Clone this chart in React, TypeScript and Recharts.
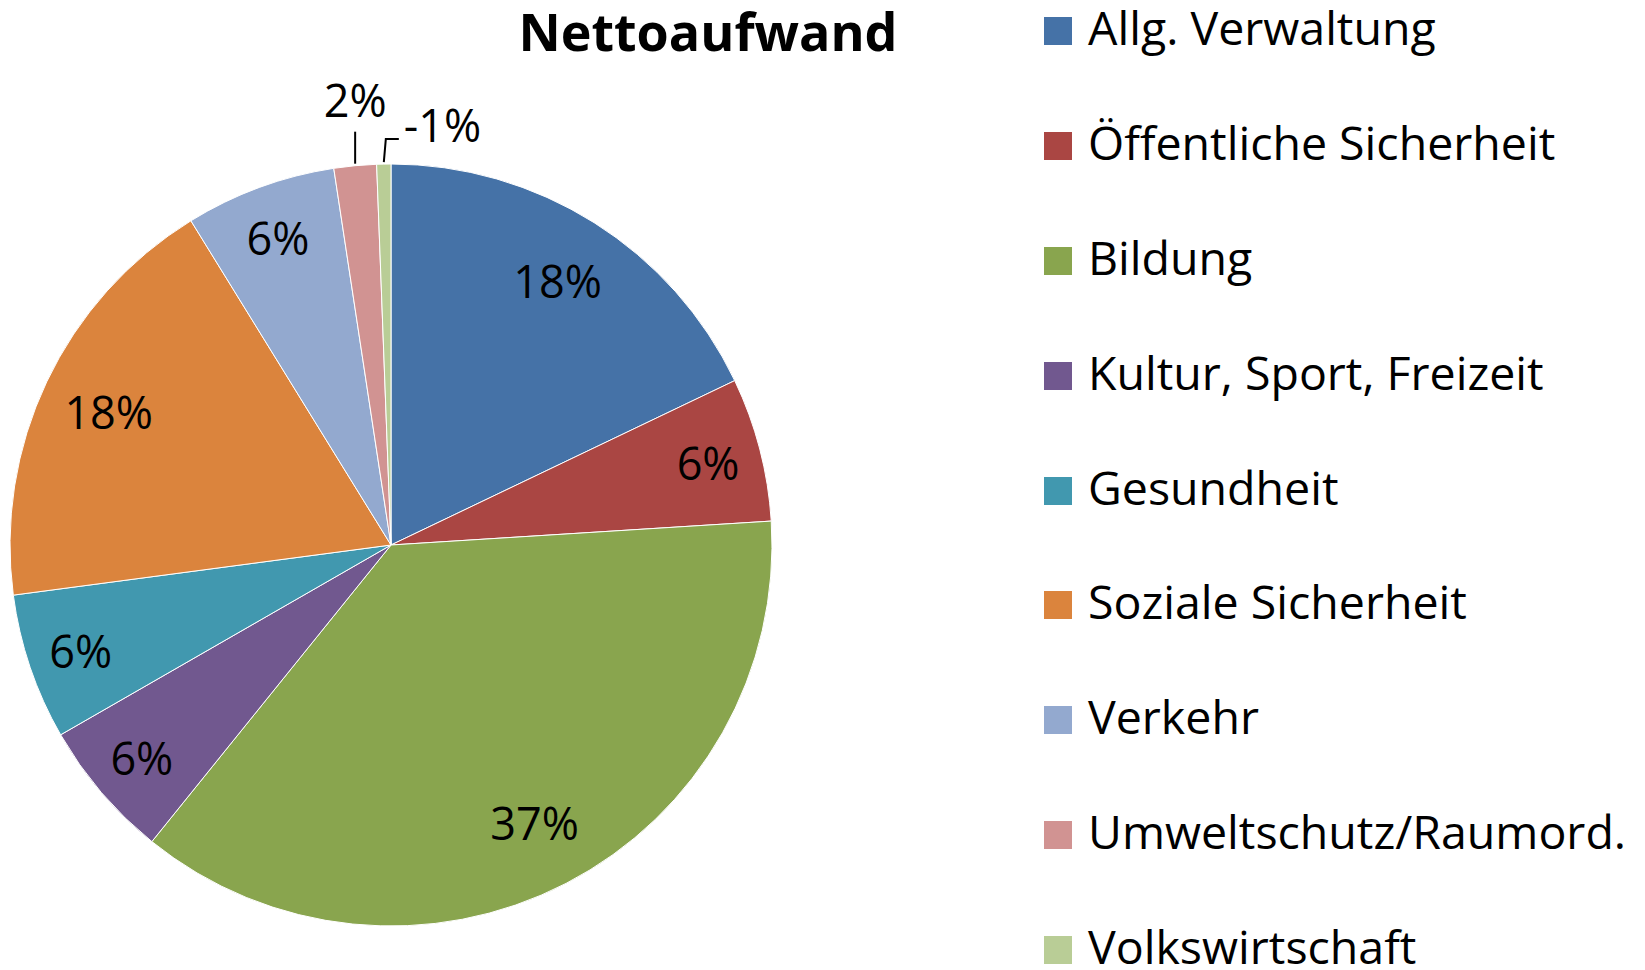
import { PieChart, Pie, Cell, Legend } from 'recharts';

const categories = [
  'Allg. Verwaltung',
  'Öffentliche Sicherheit',
  'Bildung',
  'Kultur, Sport, Freizeit',
  'Gesundheit',
  'Soziale Sicherheit',
  'Verkehr',
  'Umweltschutz/Raumord.',
  'Volkswirtschaft',
];
// share of net expenditure in %, Volkswirtschaft is negative
const shares = [17.9, 6.1, 36.8, 5.9, 6.2, 18.3, 6.4, 1.8, -0.6];
const colors = ['#4572A7', '#AA4643', '#89A54E', '#71588F', '#4198AF', '#DB843D', '#93A9CF', '#D19392', '#B9CD96'];

const data = categories.map((name, i) => ({ name, share: shares[i], size: Math.abs(shares[i]) }));

const FONT = "'Open Sans', sans-serif";
const RAD = Math.PI / 180;

function SliceLabel(props: any) {
  const { cx, cy, midAngle, outerRadius, percent, index } = props;
  const text = `${Math.round(shares[index])}%`;
  const cos = Math.cos(-midAngle * RAD);
  const sin = Math.sin(-midAngle * RAD);
  if (percent >= 0.03) {
    const r = outerRadius * (percent > 0.1 ? 0.82 : 0.86);
    return (
      <text x={cx + r * cos} y={cy + r * sin} textAnchor="middle" dominantBaseline="central"
        fontFamily={FONT} fontSize={45} fill="#000">{text}</text>
    );
  }
  const ex = cx + outerRadius * cos;
  const ey = cy + outerRadius * sin - 2;
  if (percent >= 0.01) {
    // straight leader up
    return (
      <g>
        <path d={`M${ex},${ey} L${ex},${ey - 32}`} stroke="#000" strokeWidth={2} fill="none" />
        <text x={ex} y={ey - 64} textAnchor="middle" dominantBaseline="central"
          fontFamily={FONT} fontSize={45} fill="#000">{text}</text>
      </g>
    );
  }
  // elbow leader to the right
  return (
    <g>
      <path d={`M${ex},${ey} L${ex + 2},${ey - 23} L${ex + 15},${ey - 23}`} stroke="#000" strokeWidth={2} fill="none" />
      <text x={ex + 20} y={ey - 38} textAnchor="start" dominantBaseline="central"
        fontFamily={FONT} fontSize={45} fill="#000">{text}</text>
    </g>
  );
}

function LegendList(props: any) {
  const items = [...(props.payload || [])].sort(
    (a: any, b: any) => categories.indexOf(a.value) - categories.indexOf(b.value),
  );
  return (
    <div style={{ fontFamily: FONT }}>
      {items.map((p: any) => (
        <div key={p.value} style={{ height: 114.8, display: 'flex', alignItems: 'center' }}>
          <span style={{ width: 28, height: 28, background: p.color, display: 'inline-block', flexShrink: 0 }} />
          <span style={{
            marginLeft: 16, fontSize: 46.5, lineHeight: 0.9, position: 'relative', top: -3,
            whiteSpace: 'nowrap', color: '#000',
          }}>{p.value}</span>
        </div>
      ))}
    </div>
  );
}

export default function App() {
  return (
    <div style={{ position: 'relative', width: 1645, height: 970, background: '#fff', overflow: 'hidden' }}>
      <style>{'body{margin:0}'}</style>
      <div style={{
        position: 'absolute', left: 708, top: 31, transform: 'translate(-50%, -50%)', lineHeight: 0.9,
        fontFamily: FONT, fontWeight: 700, fontSize: 52, whiteSpace: 'nowrap', color: '#000', zIndex: 2,
      }}>Nettoaufwand</div>
      <PieChart width={1645} height={970} margin={{ top: 0, right: 0, bottom: 0, left: 0 }}>
        <Pie
          data={data}
          dataKey="size"
          nameKey="name"
          cx={391}
          cy={545}
          outerRadius={381}
          startAngle={90}
          endAngle={-270}
          stroke="#ffffff"
          strokeWidth={1}
          label={SliceLabel}
          labelLine={false}
          isAnimationActive={false}
        >
          {data.map((d, i) => <Cell key={d.name} fill={colors[i]} />)}
        </Pie>
        <Legend
          layout="vertical"
          align="right"
          verticalAlign="top"
          content={LegendList}
          wrapperStyle={{ left: 1044, top: -26, width: 600 }}
        />
      </PieChart>
    </div>
  );
}
